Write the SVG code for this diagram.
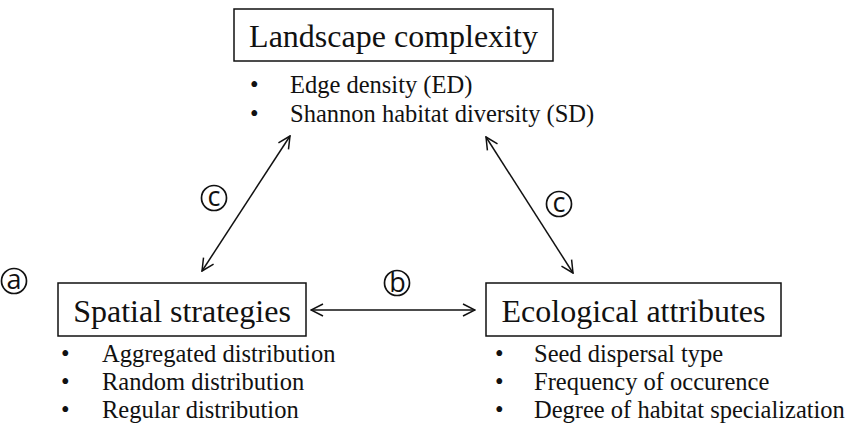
<svg xmlns="http://www.w3.org/2000/svg" width="847" height="431" viewBox="0 0 847 431">
<defs>
<marker id="ah" viewBox="0 0 14 14" refX="13" refY="7" markerWidth="14" markerHeight="14" markerUnits="userSpaceOnUse" orient="auto-start-reverse">
<path d="M1,1 L13,7 L1,13" fill="none" stroke="#111" stroke-width="1.5"/>
</marker>
<style>
.box{fill:#fff;stroke:#111;stroke-width:1.5}
.title{font-family:"Liberation Serif","Times New Roman",serif;font-size:32px;fill:#111;text-anchor:middle}
.item{font-family:"Liberation Serif","Times New Roman",serif;font-size:24.5px;fill:#111}
.con{stroke:#111;stroke-width:1.5;fill:none;marker-start:url(#ah);marker-end:url(#ah)}
.lab circle{fill:none;stroke:#111;stroke-width:1.7}
.lab text{font-family:"Open Sans","Liberation Sans",sans-serif;font-size:27px;fill:#111;text-anchor:middle}
</style>
</defs>
<rect width="847" height="431" fill="#fff"/>
<g id="landscape">
<rect class="box" x="234" y="9" width="319" height="52"/>
<text class="title" x="393.5" y="47">Landscape complexity</text>
<text class="item" x="250" y="93">•</text><text class="item" x="290" y="93">Edge density (ED)</text>
<text class="item" x="250" y="122">•</text><text class="item" x="290" y="122">Shannon habitat diversity (SD)</text>
</g>
<g id="spatial">
<rect class="box" x="58" y="283" width="248" height="53"/>
<text class="title" x="182" y="322">Spatial strategies</text>
<text class="item" x="61" y="362">•</text><text class="item" x="102" y="362">Aggregated distribution</text>
<text class="item" x="61" y="390">•</text><text class="item" x="102" y="390">Random distribution</text>
<text class="item" x="61" y="418">•</text><text class="item" x="102" y="418">Regular distribution</text>
</g>
<g id="ecological">
<rect class="box" x="486" y="283" width="295" height="53"/>
<text class="title" x="633.5" y="322">Ecological attributes</text>
<text class="item" x="495" y="362">•</text><text class="item" x="534" y="362">Seed dispersal type</text>
<text class="item" x="495" y="390">•</text><text class="item" x="534" y="390">Frequency of occurence</text>
<text class="item" x="495" y="418">•</text><text class="item" x="534" y="418">Degree of habitat specialization</text>
</g>
<g id="connectors">
<line class="con" x1="290" y1="136" x2="202" y2="271"/>
<line class="con" x1="486" y1="137" x2="573" y2="273"/>
<line class="con" x1="311" y1="310" x2="475" y2="310"/>
</g>
<g id="labels" class="lab">
<g id="label-a"><circle cx="14" cy="281" r="12.5"/><text x="14" y="288.5">a</text></g>
<g id="label-b"><circle cx="397" cy="283" r="12.5"/><text x="397.5" y="292">b</text></g>
<g id="label-c1"><circle cx="214" cy="198" r="12.5"/><text x="214" y="205.5">c</text></g>
<g id="label-c2"><circle cx="559" cy="204" r="12.5"/><text x="559" y="211.5">c</text></g>
</g>
</svg>
